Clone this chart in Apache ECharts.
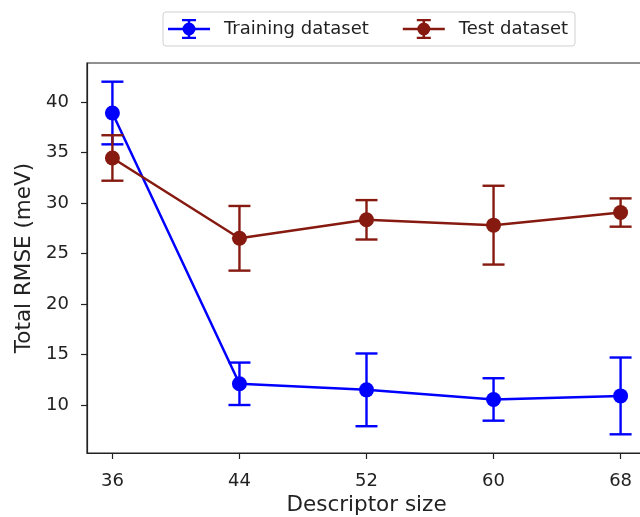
<!DOCTYPE html>
<html>
<head>
<meta charset="utf-8">
<script src="https://cdn.jsdelivr.net/npm/echarts@6/dist/echarts.min.js"></script>
<style>html,body{margin:0;padding:0;background:#fff}#c{width:640px;height:517px}</style>
</head>
<body>
<div id="c"></div>
<script>
var descriptorSizes = [36, 44, 52, 60, 68];
var trainMean = [38.9, 12.1, 11.5, 10.55, 10.9];
var trainErr  = [3.1, 2.1, 3.6, 2.1, 3.8];
var testMean  = [34.45, 26.5, 28.33, 27.8, 29.05];
var testErr   = [2.25, 3.2, 1.95, 3.9, 1.4];
var yTicks = [10, 15, 20, 25, 30, 35, 40];
var xTicks = [36, 44, 52, 60, 68];

var BLUE = '#0000ff';
var RED = '#861a10';
var FONT = 'DejaVu Sans';
var ICON = 'path://M0 8.7 H42 V11.3 H0 Z M19.7 0 H22.3 V20 H19.7 Z M14 0 H28 V2.3 H14 Z M14 17.7 H28 V20 H14 Z M14.5 10 A6.5 6.5 0 1 1 27.5 10 A6.5 6.5 0 1 1 14.5 10 Z';

function pts(mean) { return descriptorSizes.map(function (x, i) { return [x, mean[i]]; }); }
function errData(mean, err) { return descriptorSizes.map(function (x, i) { return [x, mean[i] - err[i], mean[i] + err[i]]; }); }
function errSeries(name, mean, err, color, z) {
  return {
    type: 'custom', name: name, z: z,
    data: errData(mean, err),
    encode: { x: 0, y: [1, 2] },
    renderItem: function (params, api) {
      var lo = api.coord([api.value(0), api.value(1)]);
      var hi = api.coord([api.value(0), api.value(2)]);
      var cap = 11;
      var st = { stroke: color, lineWidth: 2.4 };
      return { type: 'group', children: [
        { type: 'line', shape: { x1: lo[0], y1: lo[1], x2: hi[0], y2: hi[1] }, style: st },
        { type: 'line', shape: { x1: lo[0] - cap, y1: lo[1], x2: lo[0] + cap, y2: lo[1] }, style: st },
        { type: 'line', shape: { x1: hi[0] - cap, y1: hi[1], x2: hi[0] + cap, y2: hi[1] }, style: st }
      ]};
    }
  };
}

var chart = echarts.init(document.getElementById('c'), null, { renderer: 'canvas' });
chart.setOption({
  animation: false,
  backgroundColor: '#fff',
  textStyle: { fontFamily: FONT },
  legend: {
    data: [{ name: 'Training dataset', icon: ICON }, { name: 'Test dataset', icon: ICON }],
    left: 163, top: 12,
    itemWidth: 42, itemHeight: 20, itemGap: 34,
    padding: [7, 7, 7, 5],
    borderColor: '#d0d0d0', borderWidth: 1, borderRadius: 3,
    textStyle: { fontFamily: FONT, fontSize: 18, color: '#222', padding: [0, 0, 0, 9] }
  },
  grid: { left: 87, top: 63, width: 559, height: 390, outerBoundsMode: 'none', containLabel: false, show: true, borderColor: '#222', borderWidth: 1.2, backgroundColor: 'transparent' },
  xAxis: {
    type: 'value', min: 34.4, max: 69.6,
    name: 'Descriptor size', nameLocation: 'middle', nameGap: 38,
    nameTextStyle: { fontFamily: FONT, fontSize: 21.5, color: '#222' },
    axisLine: { show: true, onZero: false, lineStyle: { color: '#222', width: 1.2 } },
    axisTick: { show: true, length: 6, customValues: xTicks, lineStyle: { color: '#222', width: 1.2 } },
    axisLabel: { customValues: xTicks, margin: 19, fontFamily: FONT, fontSize: 18, color: '#222' },
    splitLine: { show: false }
  },
  yAxis: {
    type: 'value', min: 5.25, max: 43.85,
    name: 'Total RMSE (meV)', nameLocation: 'middle', nameGap: 52,
    nameTextStyle: { fontFamily: FONT, fontSize: 21.5, color: '#222' },
    axisLine: { show: true, onZero: false, lineStyle: { color: '#222', width: 1.2 } },
    axisTick: { show: true, length: 6, customValues: yTicks, lineStyle: { color: '#222', width: 1.2 } },
    axisLabel: { customValues: yTicks, margin: 18, fontFamily: FONT, fontSize: 18, color: '#222' },
    splitLine: { show: false }
  },
  series: [
    errSeries('Training err', trainMean, trainErr, BLUE, 2),
    {
      type: 'line', name: 'Training dataset', data: pts(trainMean), z: 3,
      symbol: 'circle', symbolSize: 15, showAllSymbol: true,
      itemStyle: { color: BLUE }, lineStyle: { color: BLUE, width: 2.5 }
    },
    errSeries('Test err', testMean, testErr, RED, 4),
    {
      type: 'line', name: 'Test dataset', data: pts(testMean), z: 5,
      symbol: 'circle', symbolSize: 15, showAllSymbol: true,
      itemStyle: { color: RED }, lineStyle: { color: RED, width: 2.5 }
    }
  ]
});
</script>
</body>
</html>
